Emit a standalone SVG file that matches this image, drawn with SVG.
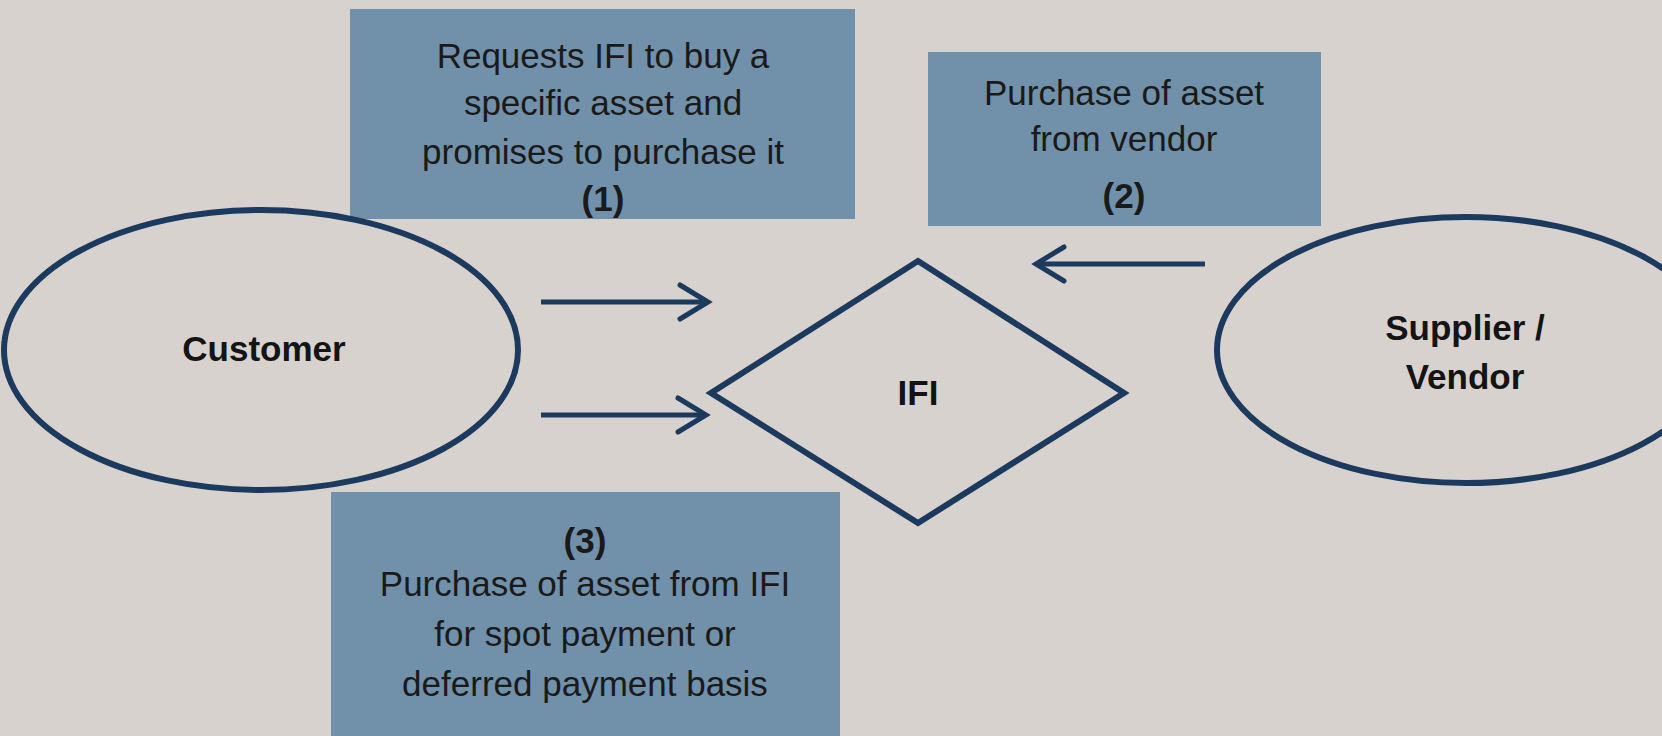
<svg xmlns="http://www.w3.org/2000/svg" width="1662" height="736" viewBox="0 0 1662 736">
  <style>
    .box { fill: #7190a9; }
    .shape { fill: none; stroke: #1b3a5e; stroke-width: 6; }
    .conn { fill: none; stroke: #1b3a5e; stroke-width: 5; }
    .t { font-family: "Liberation Sans", Arial, sans-serif; font-size: 35px; fill: #1a1a1a; text-anchor: middle; }
    .b { font-family: "Liberation Sans", Arial, sans-serif; font-size: 35px; font-weight: bold; fill: #141414; text-anchor: middle; }
    .tb { font-weight: bold; }
  </style>
  <defs>
    <marker id="chev" markerUnits="userSpaceOnUse" markerWidth="44" markerHeight="44" viewBox="-38 -22 44 44" refX="0" refY="0" orient="auto" overflow="visible">
      <path d="M-28,-17 L0,0 L-28,17" fill="none" stroke="#1b3a5e" stroke-width="5" stroke-linecap="round" stroke-linejoin="miter"/>
    </marker>
  </defs>
  <rect x="0" y="0" width="1662" height="736" fill="#d7d2ce"/>

  <g id="box1">
    <rect class="box" x="350" y="9" width="505" height="210"/>
    <text class="t" x="603" y="68">Requests IFI to buy a</text>
    <text class="t" x="603" y="115">specific asset and</text>
    <text class="t" x="603" y="164">promises to purchase it</text>
    <text class="t tb" x="603" y="211">(1)</text>
  </g>

  <g id="box2">
    <rect class="box" x="928" y="52" width="393" height="174"/>
    <text class="t" x="1124" y="105">Purchase of asset</text>
    <text class="t" x="1124" y="151">from vendor</text>
    <text class="t tb" x="1124" y="208">(2)</text>
  </g>

  <g id="box3">
    <rect class="box" x="331" y="492" width="509" height="244"/>
    <text class="t tb" x="585" y="553">(3)</text>
    <text class="t" x="585" y="596">Purchase of asset from IFI</text>
    <text class="t" x="585" y="646">for spot payment or</text>
    <text class="t" x="585" y="696">deferred payment basis</text>
  </g>

  <g id="customer">
    <ellipse class="shape" cx="261" cy="350" rx="257" ry="140"/>
    <text class="b" x="264" y="361">Customer</text>
  </g>

  <g id="ifi">
    <polygon class="shape" points="918,261 1124,393 918,523 711,393"/>
    <text class="b" x="918" y="405">IFI</text>
  </g>

  <g id="supplier">
    <ellipse class="shape" cx="1466" cy="350" rx="249" ry="133"/>
    <text class="b" x="1465" y="340">Supplier /</text>
    <text class="b" x="1465" y="389">Vendor</text>
  </g>

  <g id="connectors">
    <line class="conn" x1="541" y1="302" x2="708" y2="302" marker-end="url(#chev)"/>
    <line class="conn" x1="541" y1="415" x2="706" y2="415" marker-end="url(#chev)"/>
    <line class="conn" x1="1205" y1="264" x2="1036" y2="264" marker-end="url(#chev)"/>
  </g>
</svg>
